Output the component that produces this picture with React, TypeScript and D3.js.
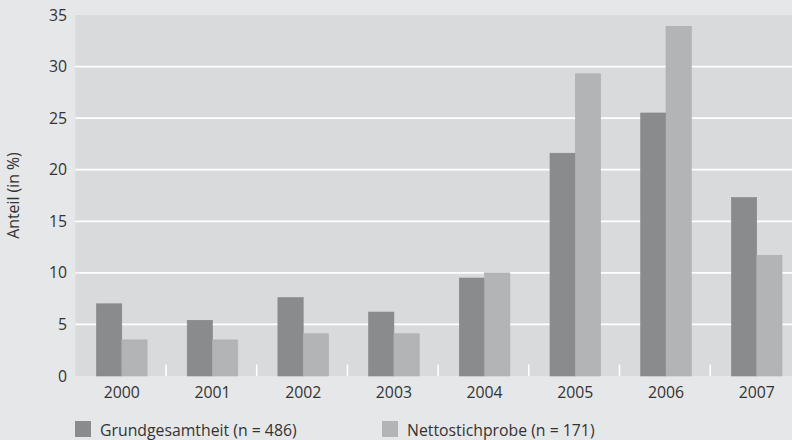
import React from "react";
import * as d3 from "d3";

const years = ["2000", "2001", "2002", "2003", "2004", "2005", "2006", "2007"];
const grund = [7.0, 5.4, 7.6, 6.2, 9.5, 21.6, 25.5, 17.3];
const netto = [3.5, 3.5, 4.1, 4.1, 10.0, 29.3, 33.9, 11.7];
const yTicks = [0, 5, 10, 15, 20, 25, 30, 35];
const seriesNames = ["Grundgesamtheit (n = 486)", "Nettostichprobe (n = 171)"];

const W = 792;
const H = 440;
const left = 75.3;
const top = 15;
const bottom = 376;
const step = 90.7;
const font = "'Open Sans', 'Noto Sans', sans-serif";
const colors = ["#8a8b8d", "#b3b4b6"];
const fs = 15.8;

export default function App() {
  const x = d3.scaleBand<string>().domain(years).range([left, left + step * years.length]).paddingInner(0).paddingOuter(0);
  const y = d3.scaleLinear().domain([0, 35]).range([bottom, top]);
  const barW = 25.3;
  const offset = 21.2;
  return (
    <svg width={W} height={H} style={{ position: "absolute", left: 0, top: 0, display: "block" }} fontFamily={font}>
      <rect x={0} y={0} width={W} height={H} fill="#e6e7e9" />
      <rect x={left} y={top} width={W - left} height={bottom - top} fill="#d9dadc" />
      {yTicks.filter(t => t > 0 && t < 35).map(t => (
        <line key={t} x1={left} x2={W} y1={y(t)} y2={y(t)} stroke="#ffffff" strokeWidth={1.8} />
      ))}
      {years.slice(1).map(yr => (
        <line key={yr} x1={x(yr)!} x2={x(yr)!} y1={bottom} y2={bottom - 11.5} stroke="#ffffff" strokeWidth={1.6} />
      ))}
      {years.map((yr, i) => (
        <g key={yr}>
          <rect x={x(yr)! + offset} y={y(grund[i])} width={barW} height={bottom - y(grund[i])} fill={colors[0]} stroke="#858688" strokeWidth={0.6} />
          <rect x={x(yr)! + offset + barW} y={y(netto[i])} width={barW} height={bottom - y(netto[i])} fill={colors[1]} stroke="#aeafb1" strokeWidth={0.6} />
        </g>
      ))}
      {yTicks.map(t => (
        <text key={t} x={67} y={y(t) + 5.5} textAnchor="end" fontSize={fs} fill="#333">{t}</text>
      ))}
      {years.map(yr => (
        <text key={yr} x={x(yr)! + offset + barW} y={398} textAnchor="middle" fontSize={fs} fill="#333">{yr}</text>
      ))}
      <text transform={`translate(19,${(top + bottom) / 2}) rotate(-90)`} textAnchor="middle" fontSize={fs} fill="#333">Anteil (in %)</text>
      {seriesNames.map((s, i) => (
        <g key={s} transform={`translate(${i === 0 ? 75 : 382},421)`}>
          <rect x={0} y={0} width={16} height={16} fill={colors[i]} />
          <text x={25} y={14.5} fontSize={fs} fill="#333">{s}</text>
        </g>
      ))}
    </svg>
  );
}
